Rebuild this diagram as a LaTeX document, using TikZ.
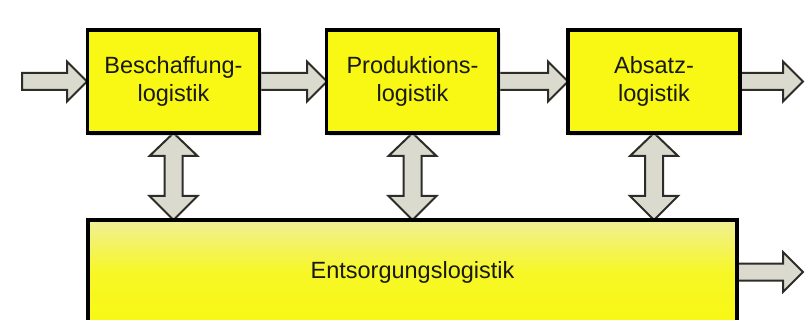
\documentclass[tikz,border=0pt]{standalone}
\usepackage{fontspec}
\setmainfont{Liberation Sans}
\usetikzlibrary{calc,shadows}
\definecolor{boxyellow}{RGB}{248,248,20}
\definecolor{paleyellow}{RGB}{240,240,150}
\definecolor{arrowfill}{RGB}{218,218,206}
\definecolor{arrowline}{RGB}{45,45,40}
\definecolor{textcol}{RGB}{25,25,20}
\tikzset{
  logbox/.style={draw=black, line width=3.5pt, fill=boxyellow, inner sep=0pt,
    minimum width=172pt, minimum height=103pt, align=center, text=textcol,
    font=\fontsize{23.5}{28}\selectfont,
    drop shadow={shadow xshift=2pt, shadow yshift=-3pt, fill=gray!60, opacity=0.35}},
  bigbox/.style={logbox, minimum width=649pt, minimum height=104pt,
    top color=paleyellow, bottom color=boxyellow, middle color=boxyellow!85!paleyellow},
  blockarrow/.style={draw=arrowline, fill=arrowfill, line width=2pt, line join=miter}
}
\newcommand{\HArrow}[2]{%
  \draw[blockarrow] ($(#1)+(0,-8.5)$) -- ($(#2)+(-20,-8.5)$) -- ($(#2)+(-20,-20)$) -- (#2)
    -- ($(#2)+(-20,20)$) -- ($(#2)+(-20,8.5)$) -- ($(#1)+(0,8.5)$) -- cycle;}
\newcommand{\VArrow}[2]{%
  \draw[blockarrow] (#1) -- ($(#1)+(24,23)$) -- ($(#1)+(9,23)$) -- ($(#2)+(9,-24)$)
    -- ($(#2)+(24,-24)$) -- (#2) -- ($(#2)+(-24,-24)$) -- ($(#2)+(-9,-24)$)
    -- ($(#1)+(-9,23)$) -- ($(#1)+(-24,23)$) -- cycle;}
\begin{document}
\begin{tikzpicture}[x=1pt,y=-1pt]
\useasboundingbox (0,0) rectangle (805,320);
\clip (0,0) rectangle (805,320);
\fill[white] (0,0) rectangle (805,320);
% nodes
\coordinate (in) at (22,81.5);
\coordinate (out) at (803,81.5);
\coordinate (out2) at (803,272);
\coordinate (b1a) at (173.5,133);
\coordinate (b2a) at (412.5,133);
\coordinate (b3a) at (654,133);
\coordinate (t1) at (173.5,220);
\coordinate (t2) at (412.5,220);
\coordinate (t3) at (654,220);
% arrows (drawn first, boxes on top)
\HArrow{in}{87,81.5}
\HArrow{260,81.5}{327,81.5}
\HArrow{498,81.5}{568,81.5}
\HArrow{740,81.5}{out}
\HArrow{737,272}{out2}
\VArrow{b1a}{t1}
\VArrow{b2a}{t2}
\VArrow{b3a}{t3}
% boxes
\node[logbox] (b1) at (173.5,81.5) {Beschaffung-\\logistik};
\node[logbox] (b2) at (412.5,81.5) {Produktions-\\logistik};
\node[logbox] (b3) at (654,81.5) {Absatz-\\logistik};
\node[bigbox] (big) at (412.5,272) {Entsorgungslogistik};
\end{tikzpicture}
\end{document}
